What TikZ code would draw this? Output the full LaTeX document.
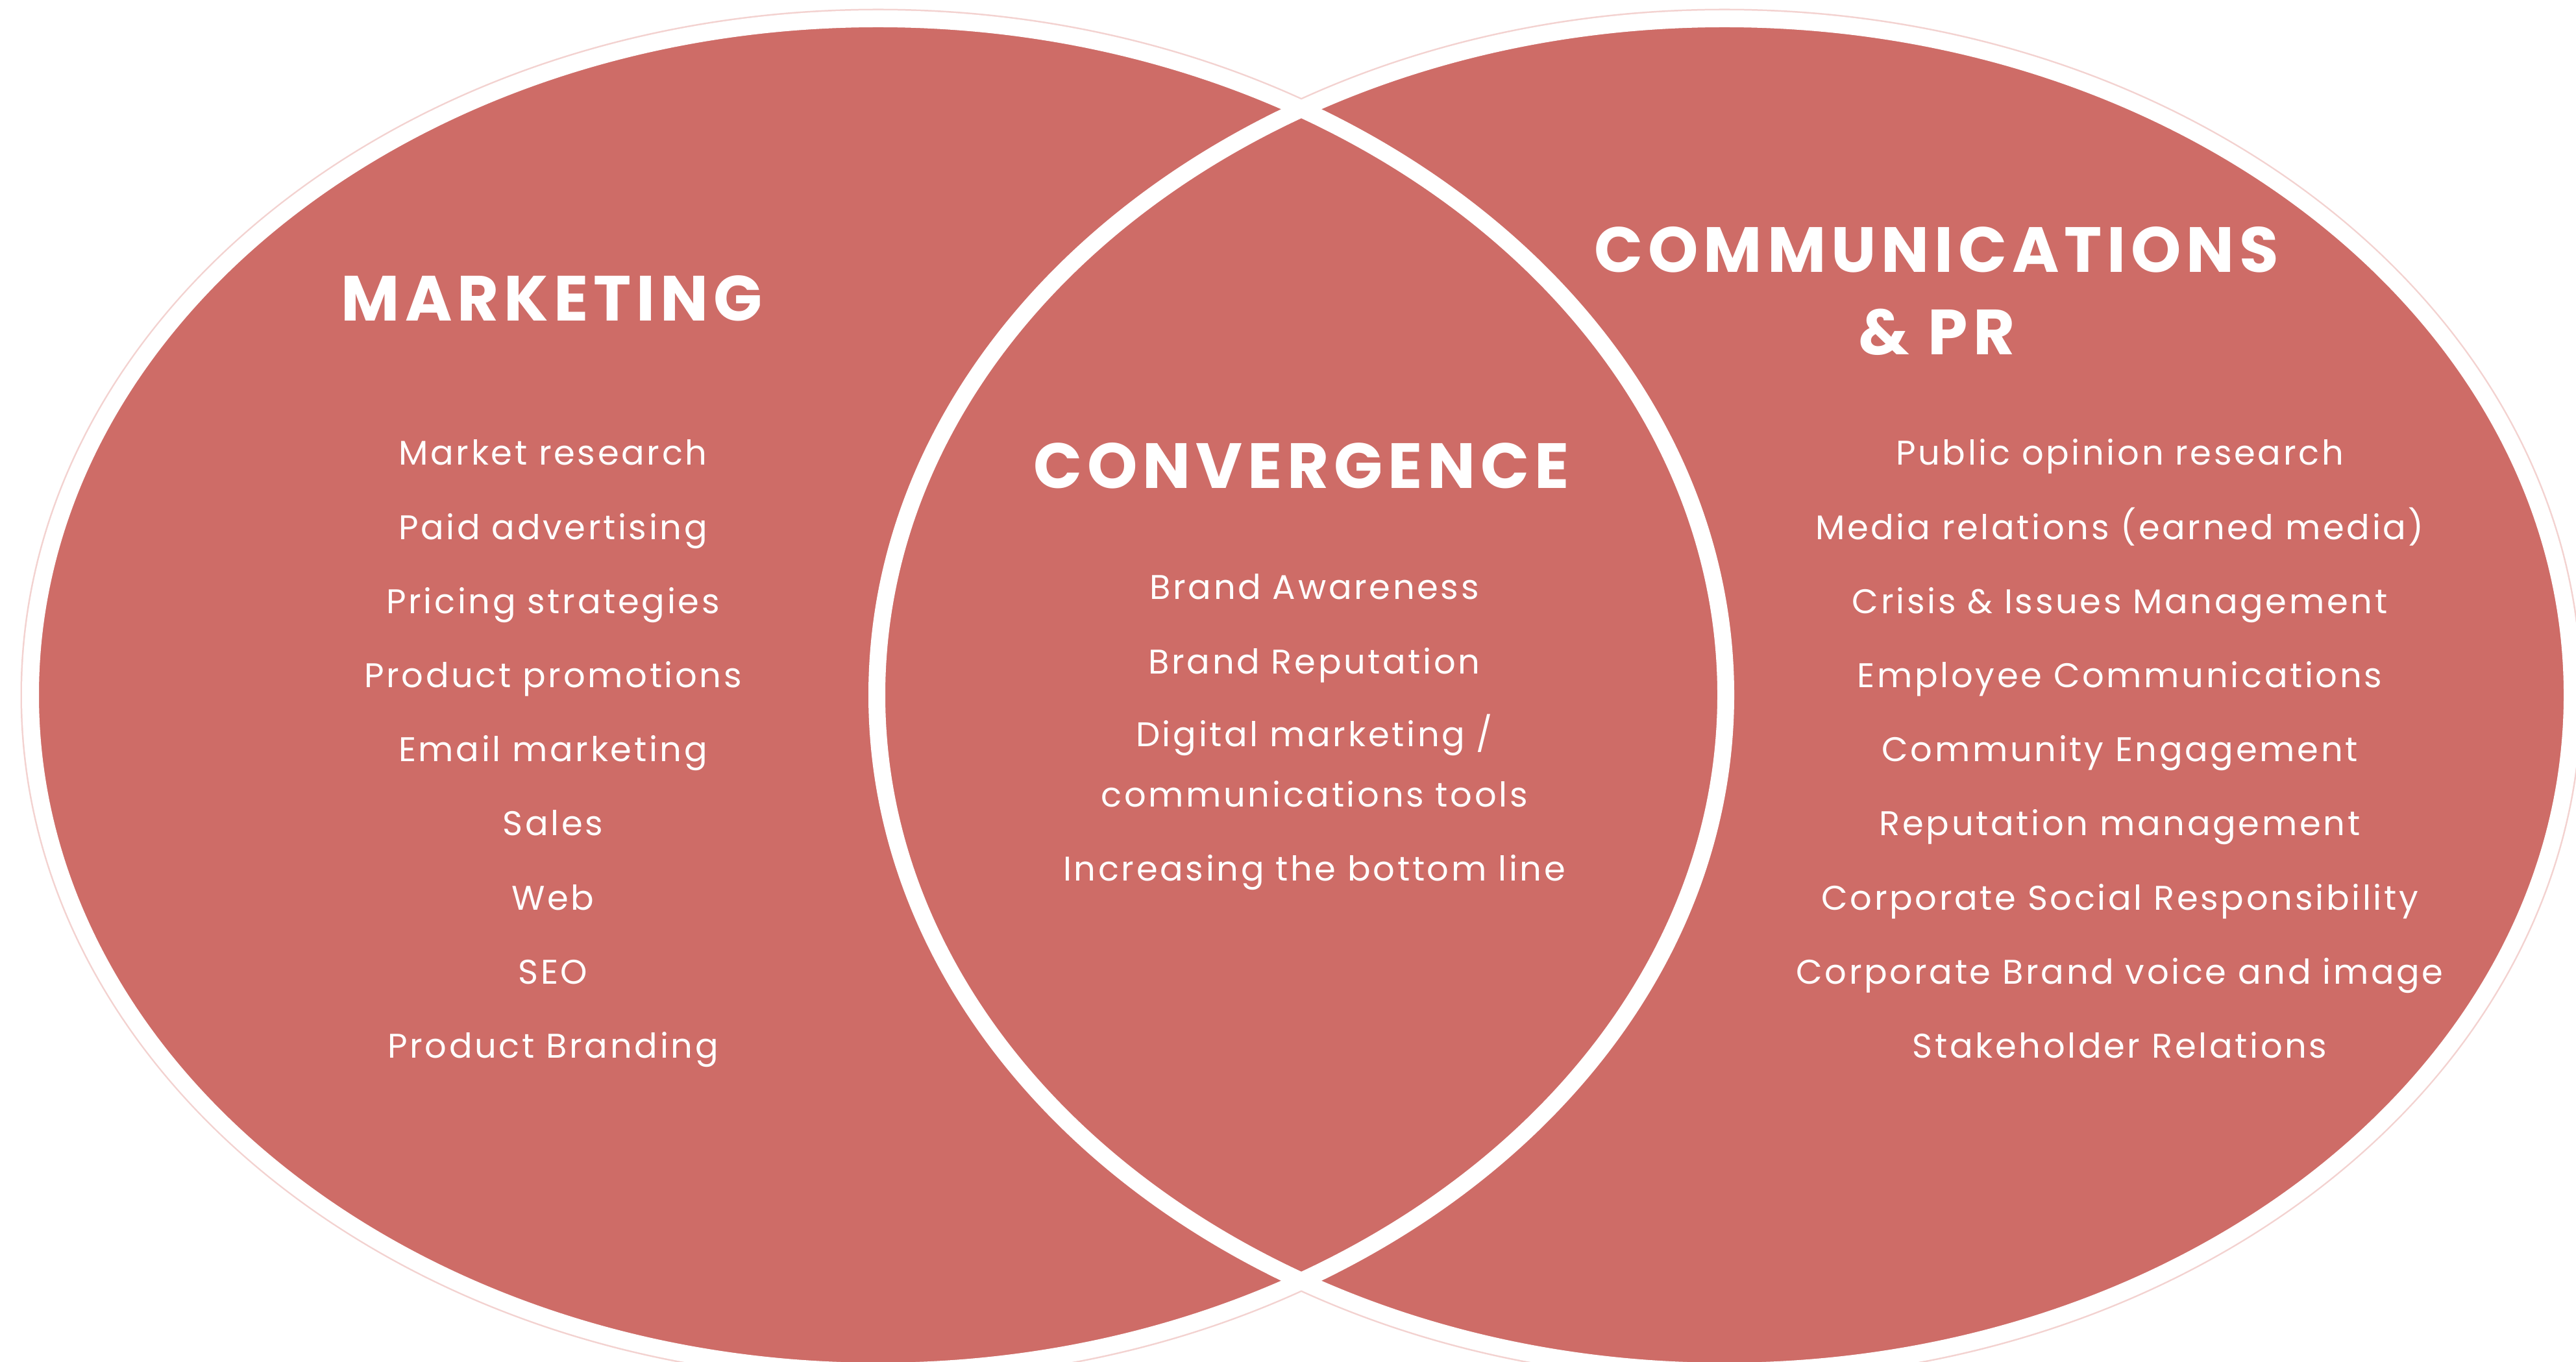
\documentclass[tikz,border=0pt]{standalone}
\usepackage{fontspec}
\setmainfont{Poppins}
\usepackage{xcolor}
\usepackage{tikz}
\usetikzlibrary{positioning}
\definecolor{blush}{HTML}{CE6C67}
\definecolor{rim}{HTML}{F3D2D0}

\begin{document}
\begin{tikzpicture}[
    lobe/.style={draw=white,line width=0.26cm},
    heading/.style={text=white,font=\bfseries\fontsize{28}{34}\selectfont\addfontfeatures{LetterSpace=8},
      anchor=base,inner sep=0pt},
    item/.style={text=white,font=\fontsize{15}{18}\selectfont\addfontfeatures{LetterSpace=7},
      anchor=base,inner sep=0pt}]
\useasboundingbox (0,0) rectangle (39.69,20.98);
% faint outer rims, then the two lobes, then both outlines on top
\draw[rim,line width=0.03cm] (13.53,10.27) ellipse [x radius=13.20,y radius=10.56];
\draw[rim,line width=0.03cm] (26.57,10.27) ellipse [x radius=13.20,y radius=10.56];
\fill[blush] (13.53,10.27) ellipse [x radius=13.06,y radius=10.42];
\fill[blush] (26.57,10.27) ellipse [x radius=13.06,y radius=10.42];
\draw[lobe] (13.53,10.27) ellipse [x radius=13.06,y radius=10.42];
\draw[lobe] (26.57,10.27) ellipse [x radius=13.06,y radius=10.42];

% headings
\node[heading] (mkt) at (8.50,16.03) {MARKETING};
\node[heading] (comm) at (29.84,16.78) {COMMUNICATIONS};
\node[heading] (pr) at (29.84,15.51) {\& PR};
\node[heading] (conv) at (20.05,13.45) {CONVERGENCE};

% marketing column
\foreach \txt [count=\i from 0] in {Market research,Paid advertising,Pricing strategies,
    Product promotions,Email marketing,Sales,Web,SEO,Product Branding}
  \node[item] (m\i) at (8.52,13.81-1.142*\i) {\txt};

% communications column
\foreach \txt [count=\i from 0] in {Public opinion research,Media relations (earned media),
    Crisis \& Issues Management,Employee Communications,Community Engagement,
    Reputation management,Corporate Social Responsibility,
    Corporate Brand voice and image,Stakeholder Relations}
  \node[item] (c\i) at (32.66,13.81-1.142*\i) {\txt};

% shared middle
\foreach \txt/\y [count=\i] in {Brand Awareness/11.74,Brand Reputation/10.59,
    {Digital marketing /}/9.47,communications tools/8.54,
    Increasing the bottom line/7.40}
  \node[item] (v\i) at (20.25,\y) {\txt};
\end{tikzpicture}
\end{document}
